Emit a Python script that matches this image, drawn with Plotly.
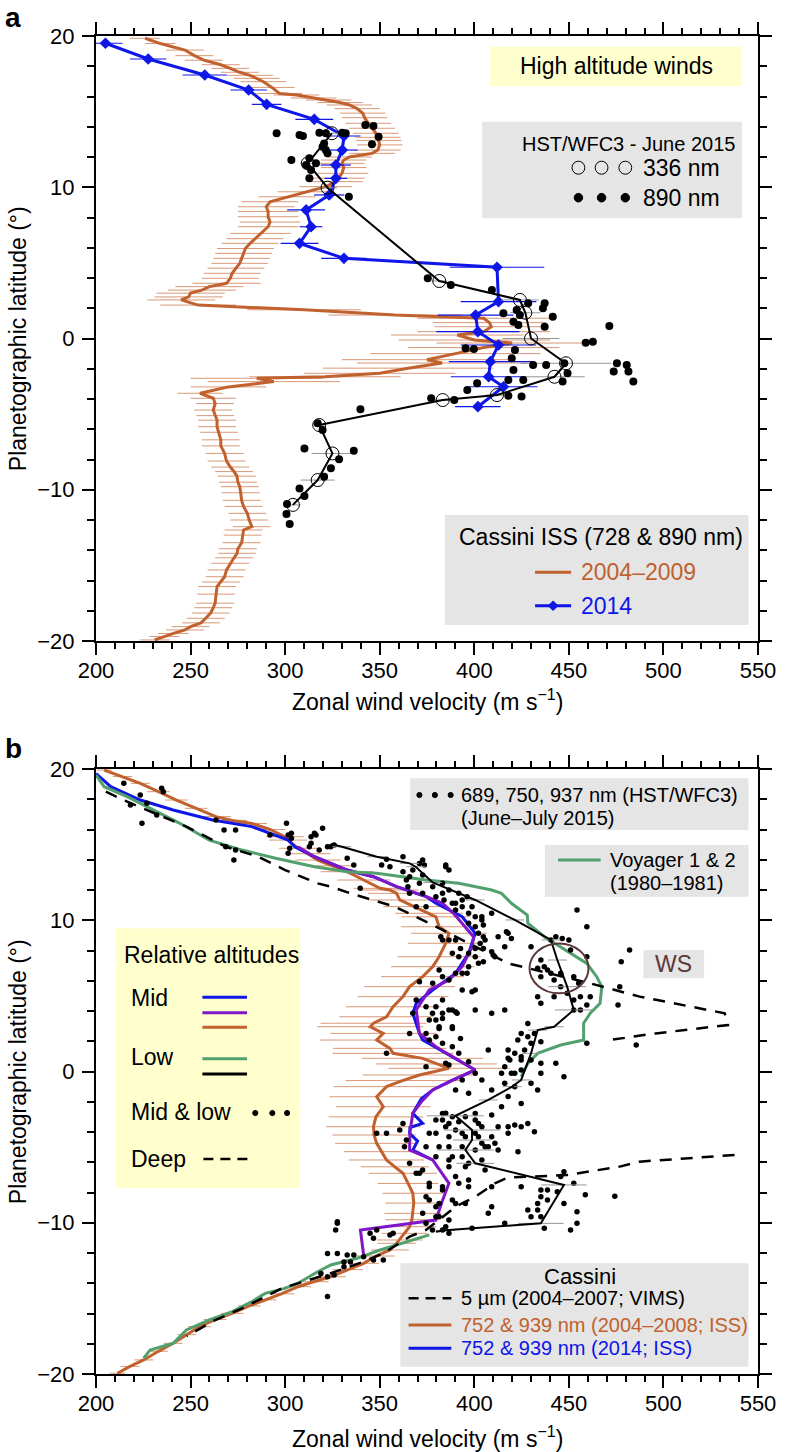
import plotly.graph_objects as go

# ---------------- Panel a data ----------------
a_iss0409_lat = [19.85,19.5,19.07,18.7,18.4,18.1,17.86,17.6,17.4,17.2,16.98,16.6,16.2,16.1,15.9,15.77,15.6,15.44,15.2,14.9,
                 14.6,14.23,13.9,13.57,13.3,13.1,12.8,12.46,12.24,12.0,11.8,11.58,11.3,10.92,10.6,10.37,10.04,9.7,9.37,9.04,
                 8.71,8.4,8.05,7.7,7.39,6.95,6.6,6.29,5.95,5.63,5.3,4.97,4.65,4.31,3.98,3.65,3.43,3.2,3.0,2.75,
                 2.55,2.21,1.9,1.55,1.34,1.05,0.78,0.45,0.23,-0.1,-0.3,-0.6,-1.0,-1.4,-1.62,-1.96,-2.3,-2.53,-2.63,-2.85,
                 -3.2,-3.62,-3.95,-4.3,-4.73,-5.1,-5.4,-5.83,-6.2,-6.7,-7.1,-7.6,-8.1,-8.5,-8.8,-9.1,-9.5,-9.8,-10.2,-10.7,
                 -11.1,-11.56,-12.0,-12.44,-12.66,-13.0,-13.5,-13.9,-14.2,-14.5,-14.86,-15.3,-15.75,-16.1,-16.4,-16.9,-17.5,-17.8,-18.15,-18.5,
                 -18.8,-19.05,-19.27,-19.5,-19.7,-19.93]
a_iss0409_v = [226,234,247,252,257,266,271,276,281.5,285,288.5,293,297,306,315,323,329,334,338,341,
               342,344,346,348,349,349.5,350,349,346,334,331,330,331,330,328,327,321.5,311,301,292,
               290,291,291,292,291,287,284,281.5,279,278,277,276,274,272,271,269,260,256,250,249,
               245,254,310,358,405,408,409,405,391,400,420,405,390,375,383,365,350,321,285,294,
               270,255,262,263,262,263,264,264,265,266,266,268,269,271,273,274.5,275,276,276.5,277,
               278,280,281,282.4,278,277.5,277,275,274.6,273,271,269,268,266,264,263.5,263,262,260.6,258,
               255.5,250,247,241,236,231]
a_iss0409_err = [8,8,10,10,10,10,10,10,12,12,12,12,12,12,12,12,12,12,12,12,
                 12,12,12,12,12,12,12,12,12,12,12,12,12,14,14,14,14,15,15,15,
                 15,16,16,16,16,16,15,15,15,15,15,15,15,15,15,18,18,18,18,18,
                 18,20,30,35,35,30,30,35,35,40,40,40,45,45,45,45,40,40,35,35,
                 20,12,12,10,10,10,10,10,10,10,10,10,10,10,10,10,10,10,10,10,
                 10,10,10,10,10,10,10,10,10,10,10,10,10,10,10,10,10,10,10,10,
                 10,10,10,8,8,8]

a_iss2014_lat = [19.52,18.48,17.42,16.43,15.48,14.49,13.39,12.46,11.47,10.59,9.49,8.5,7.39,6.29,5.3,4.71,
                 2.44,1.55,0.45,-0.43,-1.53,-2.53,-3.19,-4.51]
a_iss2014_v = [205,227.6,257.5,280.7,290.2,315.4,331.1,330.2,326.8,326.8,323.3,311.1,313.7,307.6,331.1,412,
               412.8,400.7,401.9,412.8,408.5,407.6,415.4,401.9]
a_iss2014_err = [9,9.6,11.7,9.6,7.8,10,8.7,8,8,6,8,10,6,10,12,25,20,20,22,20,22,20,18,12]

a_hst336_lat = [13.57,11.58,9.97,3.8,2.55,1.7,0.0,-1.64,-2.53,-3.74,-4.07,-5.72,-7.6,-9.36,-11.0]
a_hst336_v = [324.7,312,322.4,381.5,424.1,427,430,448.5,442.4,412,383.3,318,325,317.2,304.1]
a_hst336_err = [5,4,5,4,10,8,15,24,16,6,5,3,11,9,4]

a_hst890_lat = [13.57,13.45,13.39,13.6,13.57,13.6,13.57,12.9,12.68,12.46,12.24,11.8,11.91,11.58,11.47,11.14,10.59,9.37,
                14.12,14.05,13.34,12.84,3.98,3.54,3.2,2.33,2.33,2.0,1.88,1.67,1.55,1.44,1.11,0.89,0.78,0.83,
                -0.28,-0.21,-0.65,-0.69,-0.76,-1.31,-1.75,-1.75,-1.64,-2.3,-1.64,-1.75,-2.19,-2.19,-2.85,-2.08,
                -2.74,-2.74,-2.85,-2.96,-3.4,-3.78,-3.84,-3.95,-4.07,-4.68,-5.61,-6.05,-7.27,-7.42,-7.99,-8.58,
                -9.14,-9.91,-10.41,-10.94,-11.6,-12.26]
a_hst890_v = [295.5,307.6,309.4,318.1,321.5,330.2,332.0,320.6,319.8,321.5,322.4,303.3,312.8,316.3,311.1,313.7,312.8,333.7,
              342.4,346.7,349.4,345.9,375.4,387.6,409.3,428.5,437.2,436.3,422.4,415.4,424.1,441.5,420.7,423.3,437.2,471.4,
              458.9,462.7,395.4,399.8,421.5,419.8,431.1,438,447.6,449.3,475.4,480.6,473.7,481.5,484.1,420.7,
              418,425.9,446.7,401.5,396.3,418,425,377.2,389.4,339.8,317.2,319.8,310.2,336.3,328.5,324.2,
              320.6,307.6,310.2,301.0,300.7,302.4]

# ---------------- Panel b data ----------------
b_iss0408_lat = [19.93,19.5,19.05,18.5,17.95,17.4,16.85,16.6,16.4,16.0,15.52,15.3,14.76,14.4,13.98,13.6,13.21,12.66,12.11,12.0,
                 11.78,11.34,10.9,10.46,10.23,9.57,9.14,8.48,7.59,6.93,6.27,5.61,4.95,4.28,3.62,3.19,2.96,2.52,2.08,1.53,
                 1.2,0.87,0.5,0.21,-0.23,-0.6,-1.0,-1.67,-2.33,-3.0,-3.65,-4.2,-4.75,-5.3,-5.85,-6.3,-6.73,-7.4,-8.05,-8.7,
                 -9.38,-9.8,-10.26,-10.7,-11.14,-11.36,-11.8,-12.2,-12.68,-13.1,-13.57,-13.9,-14.23,-14.7,-15.1,-15.5,-15.99,-16.4,-16.87,-17.4,
                 -17.97,-18.5,-19.07,-19.5,-19.95]
b_iss0408_v = [204.3,214,223.4,233,242.5,253,263.4,272,282.4,292,299.8,301.6,306.8,312,317.2,325,332.8,341.5,350.2,355.4,
               358.9,360.6,368,376.2,379.7,381.4,386.6,384.9,381.4,378,372.7,365.8,362.3,357.1,353.6,346.7,345,351.9,348.4,355.4,
               357.1,372.7,380,386.6,371,362,353.6,348.4,351.9,348,346.7,347,348.4,351,353.6,358,362.3,365,367.5,368,
               367.5,367,365.8,363,360.6,358.9,355.4,348,341.5,333,324.1,315,306.8,298,289.4,281,272,263,254.7,248,
               240.8,233,225.2,218,211.3]
b_iss0408_err = [4,5,5,6,6,6,8,8,8,8,10,10,10,12,12,12,14,14,14,15,
                 15,16,16,18,18,20,20,20,22,22,22,24,24,25,25,28,28,28,30,30,
                 32,32,32,32,30,30,28,25,25,25,25,22,22,20,20,18,18,16,16,15,
                 15,14,14,12,12,10,10,10,8,8,8,8,7,7,6,6,6,6,6,5,
                 5,5,5,5,4]

b_iss2014_lat = [19.7,18.83,17.95,17.29,16.63,16.19,15.3,14.86,14.2,13.76,13.32,12.88,12.22,11.57,11.12,10.23,9.14,7.81,
                 6.49,5.39,4.51,3.85,2.52,2.08,1.2,0.1,-0.6,-1.22,-1.8,-2.76,-3.43,-3.7,-4.09,-4.6,-5.19,-5.85]
b_iss2014_v = [200,207.8,223.4,240.8,261.6,282.4,301.6,305.1,315.5,324.1,332.8,346.7,358.9,374.5,379.7,393.6,400.5,397,
               390.1,378,369.3,367.5,371,372.7,385,400.5,388,378,372,367.5,372.7,366,365.8,370,367.5,378]

b_mid_lat = [14.86,14.2,13.76,13.32,12.88,12.22,11.57,11.12,10.46,9.8,8.91,8.25,6.93,6.05,5.39,4.07,3.3,2.52,1.64,0.9,
             0.1,-0.6,-1.22,-2.0,-2.76,-4.0,-5.19,-5.85,-6.6,-7.39,-8.6,-9.82,-10.48,-12.13]
b_mid_v = [306.8,315.5,324.1,332.8,346.7,358.9,374.5,383.2,389,393.6,399.6,398.8,393.6,386.6,376.2,369.3,370,371,379.7,390,
           400.5,388,378,372,367.5,366,365.8,378,382,386.6,383,379.7,339.8,341.5]

b_voyager_lat = [19.6,18.83,18.17,17.29,16.41,15.3,14.64,14.1,13.54,13.21,13.1,12.88,12.66,12.44,12.0,11.78,11.12,10.35,9.8,8.91,
                 8.25,7.15,6.27,5.61,4.51,3.85,3.19,2.08,1.75,1.2,0.54,-0.34,None,-10.8,-11.47,-11.8,-12.35,-12.79,-13.24,-14.0,
                 -14.34,-14.67,-15.22,-15.88,-16.43,-17.09,-17.97,-18.41,-18.96]
b_voyager_v = [200,204.3,216.5,230.4,244.3,259.9,277.2,295,315.5,332.8,348.4,362,374.5,391.8,409.2,414.4,419.6,428,428.3,437,
               445.7,459.5,464.7,467.4,466.5,461.3,457.8,457.8,445.7,433.5,428.3,424.8,None,376.2,358.9,350.2,338,324.1,317.2,306.8,
               299.8,289.4,282.4,272,259.9,247.8,240.8,228.6,225.2]

b_hstline_lat = [15.04,14.86,14.2,13.76,13.54,12.5,11.34,10.02,8.7,7.37,5.61,4.07,2.96,2.74,1.2,-0.56,-1.0,-1.88,-2.93,-3.87,
                 -4.53,-5.19,-6.07,-7.5,-10.04,-10.5,-10.6]
b_hstline_v = [324.1,330,348.4,365.8,369,378,400.5,421.4,440.5,443.9,449.1,452.6,442.2,433.5,430,424.8,420,407.4,390,398.8,
               398.8,395.3,400.5,447.4,435.2,384.9,379.7]
b_hstline_err = [0,5,5,5,5,5,5,5,5,5,10,10,5,5,5,5,5,5,15,15,10,15,10,12,12,5,0]

b_vims_lat = [18.5,17.84,16.19,14.86,14.2,13.32,12.44,12.22,11.78,10.9,9.8,8.48,7.15,5.83,4.95,3.85,3.07,2.52,2.08,None,
              -5.52,-5.96,-6.29,-6.62,-6.84,-6.95,-7.0,-7.39,-8.28,-8.94,-9.6,-10.48,-10.92,-12.02,-12.57,-13.34,-14.34,-15.66,-16.5,-17.5]
b_vims_v = [205.2,216.5,247.8,268.6,285.9,300,317.2,324.1,334.5,358,376.2,397,417.9,461.3,487.4,532.4,534.1,495.9,471.7,None,
            537.6,487.3,476.9,461.3,449.1,431.8,417.9,410.9,400.5,390.1,383.2,374.5,365.8,351.9,341.5,324.1,298.1,277.2,262,248]

b_dots_v = [214.7,218.2,223.4,226.9,234.7,235.6,224.3,232.1,263.4,267.7,273.8,268.6,273.8,272.9,292.0,300.7,301.6,303.3,302.4,301.6,
            313.7,316.3,319.8,312.8,318.0,324.1,325.9,332.8,336.3,339.7,351.0,355.4,353.6,
            303.3,315.5,313.7,322.4,362.3,364.1,367.5,371.0,373.6,384.9,386.6,364.9,371.0,372.7,378.0,379.7,383.2,386.6,384.0,388.4,
            390.1,393.6,396.2,393.6,398.8,397.0,400.5,404.0,409.2,397.0,400.5,404.8,402.2,404.8,405.7,403.1,400.5,404.8,382.3,383.2,
            386.6,390.1,392.7,388.4,391.8,397.0,400.5,402.2,404.8,397.0,390.1,393.6,396.2,381.4,383.2,386.6,371.0,378.0,400.5,398.8,
            416.1,410.9,412.6,417.9,419.6,416.1,409.2,369.3,374.5,383.2,386.6,390.1,376.2,381.4,388.4,374.5,379.7,383.2,392.7,362.3,
            372.7,365.8,369.3,
            454.3,459.5,482.1,477.7,430.0,417.0,410.0,440.5,443.1,446.5,450.0,450.9,459.5,435.2,437.0,438.7,440.5,433.5,435.2,442.2,
            445.7,452.6,455.2,445.7,433.5,435.2,442.2,449.1,452.6,456.1,461.3,452.6,456.1,459.5,476.0,476.9,428.3,424.8,428.3,431.8,
            423.0,430.0,435.2,459.5,485.6,417.9,421.4,426.6,418.8,424.8,430.0,435.2,443.1,414.4,419.6,424.8,430.0,433.5,421.4,447.4,
            416.1,435.2,393.6,400.5,409.2,374.5,372.7,384.9,365.8,383.2,391.8,390.1,404.0,367.5,379.7,383.2,388.4,365.8,376.2,388.4,
            374.5,384.9,391.8,400.5,
            377.9,390.9,379.7,383.2,381.4,388.4,407.4,424.8,417.9,397.0,386.6,416.1,421.4,404.0,393.6,390.1,397.0,409.2,417.9,414.4,
            424.8,384.9,388.4,383.2,386.6,391.8,395.3,400.5,402.2,409.2,417.9,424.8,379.7,386.6,390.1,395.3,400.5,409.2,417.9,374.5,
            381.4,386.6,393.6,400.5,405.7,410.9,379.7,386.6,393.6,397.0,404.0,376.2,383.2,391.8,376.2,381.4,388.4,395.3,407.4,372.7,
            379.7,386.6,374.5,377.9,383.2,386.6,327.6,326.7,346.7,348.4,357.1,353.6,376.2,348.4,362.3,371.0,363.1,
            360.6,364.1,379.7,383.2,384.9,393.6,400.5,404.0,402.2,412.6,421.4,431.8,423.1,412.6,407.4,404.0,388.4,386.6,395.3,405.7,
            390.1,397.0,383.2,390.1,397.0,409.2,379.7,381.4,384.9,435.2,438.7,443.9,435.2,433.5,438.7,428.3,433.5,430.0,435.2,445.7,
            447.4,452.6,458.7,447.4,454.3,454.3,450.9,437.0,474.3,416.1,398.8,365.8,369.3,372.7,376.2,374.5,409.2,424.8,428.3,
            327.6,322.4,327.6,332.8,336.3,331.1,334.5,318.9,322.4,325.9,331.1,322.4,344.9,355.4,351.9,346.7,341.5,353.6]
b_dots_lat = [19.05,17.62,18.28,17.73,18.72,18.5,16.41,16.96,16.63,15.97,15.97,14.86,14.64,13.98,15.64,16.41,15.64,15.42,14.76,14.43,
              15.52,15.64,16.08,14.86,14.64,14.86,14.98,14.1,13.65,12.11,13.65,13.54,14.03,
              15.75,15.75,15.09,14.86,13.21,12.66,13.32,13.76,13.65,13.65,13.32,12.22,12.44,11.78,12.22,11.56,11.78,12.0,11.34,11.12,
              10.68,11.34,11.56,10.9,10.9,10.46,10.23,10.23,10.46,9.8,9.57,9.68,9.14,8.91,8.69,8.47,8.14,8.14,8.91,8.69,
              8.69,8.69,8.14,7.81,7.59,7.81,7.59,7.15,7.26,6.93,6.49,6.49,6.49,6.71,6.27,6.05,5.94,5.83,5.39,5.28,
              4.07,7.59,8.91,9.14,8.8,8.25,7.92,4.73,4.28,4.73,4.07,3.95,3.4,2.96,2.96,2.52,2.3,1.86,2.19,14.2,
              12.99,11.78,10.9,
              10.68,9.57,8.03,7.26,8.25,9.24,7.7,8.69,8.91,8.8,8.69,8.03,7.59,7.37,6.93,6.71,6.49,6.82,6.27,6.05,
              6.49,6.27,5.83,5.61,4.95,4.51,4.95,5.17,4.73,4.95,4.95,4.07,4.07,4.4,4.4,5.61,3.18,2.52,2.3,2.52,
              2.08,1.86,1.97,1.86,1.75,1.42,1.2,1.42,0.76,0.76,0.76,0.54,0.54,-0.12,-0.12,0.1,-0.78,-1.22,-1.0,-0.34,
              -0.78,-0.12,5.39,4.07,3.85,10.9,13.98,13.54,12.88,12.44,11.78,11.12,10.02,3.85,4.28,3.85,4.07,2.52,2.08,1.64,
              0.32,0.54,1.2,-0.12,
              3.85,3.85,3.4,3.51,2.85,2.85,1.42,0.98,0.87,0.65,0.43,0.32,-0.12,-0.56,-0.56,-1.22,-1.44,-1.22,-1.66,-2.33,
              -2.11,-2.76,-2.99,-3.21,-3.43,-3.32,-2.99,-2.77,-3.43,-2.88,-3.65,-3.65,-4.09,-4.31,-3.87,-4.31,-4.09,-4.31,-4.09,-4.97,
              -4.97,-4.97,-4.97,-5.19,-4.97,-4.75,-5.63,-5.85,-5.63,-6.07,-5.85,-7.39,-7.62,-7.39,-8.5,-8.72,-8.5,-8.72,-9.38,-9.38,
              -9.6,-9.82,-10.04,-10.48,-10.48,-10.7,-10.04,-10.48,-11.03,-10.48,-10.7,1.2,-4.09,-4.09,-3.43,-6.73,-4.97,
              -3.87,-4.53,-3.21,-2.77,-3.65,-4.09,-3.21,-3.65,-4.31,-3.65,-3.54,-3.98,-5.31,-5.19,-4.97,-4.75,-5.63,-6.29,-6.29,-6.51,
              -6.95,-7.17,-7.84,-8.72,-7.62,-8.94,-8.94,-9.6,-10.26,-7.84,-7.84,-7.95,-8.28,-8.72,-8.5,-9.16,-9.16,-9.6,-9.6,-6.95,
              -6.62,-7.39,-8.15,-8.72,-9.27,-10.04,-10.48,-10.37,-8.24,-10.04,-10.37,-6.07,-6.73,-6.51,-7.62,-8.28,-7.62,-7.62,-3.43,
              -9.93,-12.03,-12.03,-12.14,-12.14,-12.59,-12.59,-13.35,-13.57,-13.46,-12.91,-14.87,-10.7,-10.81,-12.46,-12.46,-12.24,-4.09]

ws_center_v, ws_center_lat = 444.8, 6.82
ws_radius_v, ws_radius_lat = 15.6, 1.65

# ---------------- Styles ----------------
FONT = "Liberation Sans, Arial, Helvetica, sans-serif"
ORANGE = "rgb(192,97,46)"
ORANGE_ERR = "rgba(204,118,74,0.75)"
BLUE = "rgb(14,22,232)"
PURPLE = "rgb(128,22,200)"
GREEN = "rgb(82,160,110)"
GRAY_ERR = "rgb(150,150,150)"
YELLOW_BOX = "rgb(255,255,206)"
GRAY_BOX = "rgb(229,229,229)"
WS_COL = "rgb(92,56,56)"

W, H = 788, 1452
ML, MR, MT, MB = 96, 20, 36, 78
PW, PH = W - ML - MR, H - MT - MB


def PX(x):
    return (x - ML) / PW


def PY(y):
    return (H - MB - y) / PH


fig = go.Figure()


def sc(x, y, xa, ya, **kw):
    fig.add_trace(go.Scatter(x=x, y=y, xaxis=xa, yaxis=ya, showlegend=False,
                             hoverinfo="skip", cliponaxis=True, **kw))


# Panel a traces
sc(a_iss0409_v, a_iss0409_lat, "x", "y", mode="lines",
   line=dict(color=ORANGE, width=3),
   error_x=dict(type="data", array=a_iss0409_err, color=ORANGE_ERR, thickness=1, width=0))
sc(a_iss2014_v, a_iss2014_lat, "x", "y", mode="lines+markers",
   line=dict(color=BLUE, width=3), marker=dict(symbol="diamond", size=9, color=BLUE),
   error_x=dict(type="data", array=a_iss2014_err, color=BLUE, thickness=1.2, width=0))
sc(a_hst336_v, a_hst336_lat, "x", "y", mode="lines+markers",
   line=dict(color="black", width=2),
   marker=dict(symbol="circle-open", size=13, color="black", line=dict(width=1)),
   error_x=dict(type="data", array=a_hst336_err, color=GRAY_ERR, thickness=1, width=0))
sc(a_hst890_v, a_hst890_lat, "x", "y", mode="markers",
   marker=dict(size=8, color="black"))

# Panel b traces
sc(b_iss0408_v, b_iss0408_lat, "x2", "y2", mode="lines",
   line=dict(color=ORANGE, width=3),
   error_x=dict(type="data", array=b_iss0408_err, color=ORANGE_ERR, thickness=1, width=0))
sc(b_iss2014_v, b_iss2014_lat, "x2", "y2", mode="lines", line=dict(color=BLUE, width=3))
sc(b_mid_v, b_mid_lat, "x2", "y2", mode="lines", line=dict(color=PURPLE, width=3))
sc(b_voyager_v, b_voyager_lat, "x2", "y2", mode="lines", line=dict(color=GREEN, width=3),
   connectgaps=False)
sc(b_vims_v, b_vims_lat, "x2", "y2", mode="lines",
   line=dict(color="black", width=2.5, dash="12px,9px"), connectgaps=False)
sc(b_dots_v, b_dots_lat, "x2", "y2", mode="markers", marker=dict(size=5.5, color="black"))
sc(b_hstline_v, b_hstline_lat, "x2", "y2", mode="lines",
   line=dict(color="black", width=2),
   error_x=dict(type="data", array=b_hstline_err, color=GRAY_ERR, thickness=1, width=0))

# ---------------- Axes ----------------
tickfont = dict(family=FONT, size=22, color="black")


def xax(anchor):
    return dict(range=[200, 550], domain=[0, 1], anchor=anchor, dtick=50, tick0=200,
                showline=True, linewidth=2, linecolor="black", mirror="ticks",
                ticks="outside", ticklen=12, tickwidth=2, tickcolor="black",
                minor=dict(dtick=10, ticklen=6, tickwidth=2, tickcolor="black", ticks="outside"),
                showgrid=False, zeroline=False, tickfont=tickfont, ticklabelstandoff=-3)


def yax(anchor, dom):
    return dict(range=[-20, 20], domain=dom, anchor=anchor, dtick=10, tick0=0,
                showline=True, linewidth=2, linecolor="black", mirror="ticks",
                ticks="outside", ticklen=12, tickwidth=2, tickcolor="black",
                minor=dict(dtick=2, ticklen=7, tickwidth=2, tickcolor="black", ticks="outside"),
                showgrid=False, zeroline=False, tickfont=tickfont, ticklabelstandoff=3)


ya_dom = [PY(641), 1.0]
yb_dom = [0.0, PY(769)]

shapes = []
annots = []


def box(x0, y0, x1, y1, color):
    shapes.append(dict(type="rect", xref="paper", yref="paper", x0=PX(x0), x1=PX(x1),
                       y0=PY(y1), y1=PY(y0), fillcolor=color, line=dict(width=0), layer="below"))


def hline(x0, x1, y, color, width=3, dash=None):
    ln = dict(color=color, width=width)
    if dash:
        ln["dash"] = dash
    shapes.append(dict(type="line", xref="paper", yref="paper", x0=PX(x0), x1=PX(x1),
                       y0=PY(y), y1=PY(y), line=ln))


def circ(cx, cy, r, filled):
    shapes.append(dict(type="circle", xref="paper", yref="paper",
                       x0=PX(cx - r), x1=PX(cx + r), y0=PY(cy + r), y1=PY(cy - r),
                       line=dict(color="black", width=1),
                       fillcolor="black" if filled else "rgba(0,0,0,0)"))


def text(x, y, s, size=23, color="black", anchor="left", **kw):
    annots.append(dict(x=PX(x), y=PY(y), xref="paper", yref="paper", text=s, showarrow=False,
                       xanchor=anchor, yanchor="middle",
                       font=dict(family=FONT, size=size, color=color), **kw))


# Panel labels
text(2, 18, "<b>a</b>", size=28)
text(2, 748, "<b>b</b>", size=28)

# Axis titles
for yc, yt in [(339, 700), (1072, 1437)]:
    text(432, yt, "Zonal wind velocity (m s<sup>−1</sup>)", size=23, anchor="center")
    text(17, yc, "Planetographic latitude (°)", size=23, anchor="center", textangle=-90)

# Panel a legends
box(496, 46.7, 751.7, 86, YELLOW_BOX)
text(624, 66, "High altitude winds", anchor="center")
box(488, 121.7, 751.7, 218.3, GRAY_BOX)
text(636.5, 144, "HST/WFC3 - June 2015", size=20, anchor="center")
for cx in (585.7, 609.2, 633.3):
    circ(cx, 167.7, 6.5, False)
    circ(cx, 197.7, 4.3, True)
text(649, 168, "336 nm")
text(649, 198, "890 nm")
box(450, 515, 758.3, 625, GRAY_BOX)
text(609, 537, "Cassini ISS (728 & 890 nm)", anchor="center")
hline(541.7, 578.3, 572.3, ORANGE)
text(586, 572.3, "2004–2009", color=ORANGE)
hline(541.7, 578.3, 605.7, BLUE)
shapes.append(dict(type="path", xref="paper", yref="paper", fillcolor=BLUE, line=dict(width=0),
                   path="M {a},{b} L {c},{d} L {a},{e} L {f},{d} Z".format(
                       a=PX(560), b=PY(600.5), c=PX(565.5), d=PY(605.7), e=PY(610.9), f=PX(554.5))))
text(586, 605.7, "2014", color=BLUE)

# Panel b legends
box(415, 778.3, 758.3, 830, GRAY_BOX)
for cx in (424.3, 440, 456):
    circ(cx, 795, 2.6, True)
text(464, 795, "689, 750, 937 nm (HST/WFC3)", size=20)
text(464, 818.3, "(June–July 2015)", size=20)
box(551.7, 845, 758.3, 896.7, GRAY_BOX)
hline(565, 608.3, 860, GREEN)
text(616, 860, "Voyager 1 & 2", size=20)
text(616, 883.3, "(1980–1981)", size=20)

box(116, 928.3, 303.3, 1188.3, YELLOW_BOX)
text(122, 955, "Relative altitudes")
text(129, 998.3, "Mid")
hline(204, 249.3, 997.3, BLUE)
hline(204, 249.3, 1012.7, PURPLE)
hline(204, 249.3, 1027.3, ORANGE)
text(129, 1056.7, "Low")
hline(204, 249.3, 1058.7, GREEN)
hline(204, 249.3, 1074, "black")
text(129, 1111.7, "Mid & low")
for cx in (257.7, 275, 290):
    circ(cx, 1113, 2.6, True)
text(129, 1159, "Deep")
hline(205, 250, 1159, "black", width=2.5, dash="10px,7px")

box(651.7, 950, 713.3, 978.3, GRAY_BOX)
text(682.5, 964, "WS", color=WS_COL, anchor="center")
shapes.append(dict(type="circle", xref="x2", yref="y2",
                   x0=ws_center_v - ws_radius_v, x1=ws_center_v + ws_radius_v,
                   y0=ws_center_lat - ws_radius_lat, y1=ws_center_lat + ws_radius_lat,
                   line=dict(color=WS_COL, width=2)))

box(405, 1263.3, 758.3, 1366.7, GRAY_BOX)
text(587.5, 1276.7, "Cassini", size=22, anchor="center")
hline(413.3, 456.7, 1298.3, "black", width=2.5, dash="10px,7px")
text(464, 1298.3, "5 µm (2004–2007; VIMS)", size=20)
hline(413.3, 456.7, 1325, ORANGE)
text(464, 1325, "752 & 939 nm (2004–2008; ISS)", size=20, color=ORANGE)
hline(413.3, 456.7, 1348.3, BLUE)
text(464, 1348.3, "752 & 939 nm (2014; ISS)", size=20, color=BLUE)

fig.update_layout(
    width=W, height=H,
    margin=dict(l=ML, r=MR, t=MT, b=MB, pad=0),
    paper_bgcolor="white", plot_bgcolor="white",
    showlegend=False,
    font=dict(family=FONT, size=22, color="black"),
    xaxis=xax("y"), yaxis=yax("x", ya_dom),
    xaxis2=xax("y2"), yaxis2=yax("x2", yb_dom),
    shapes=shapes, annotations=annots,
)

fig.write_html("out.html", config={"displayModeBar": False},
               post_script="document.body.style.margin='0px';document.body.style.padding='0px';")
